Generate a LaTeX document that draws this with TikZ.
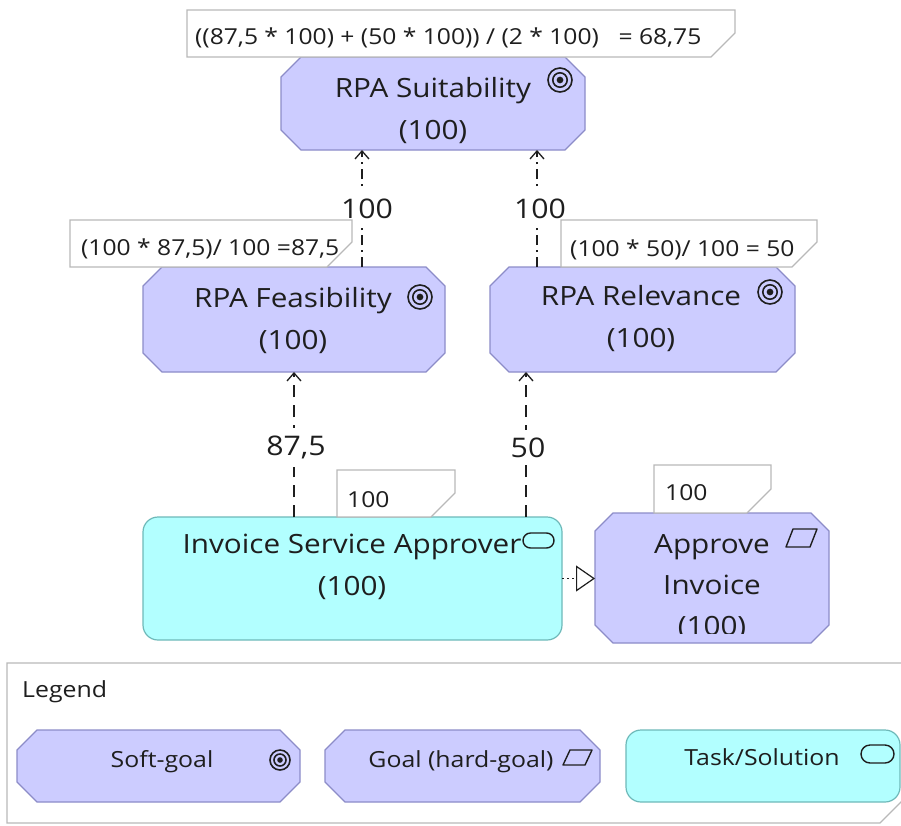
\documentclass[tikz,border=0pt]{standalone}
\usepackage{fontspec}
\setmainfont{Open Sans}[FakeStretch=1.12]
\usetikzlibrary{arrows.meta}

\definecolor{goalfill}{RGB}{204,204,255}
\definecolor{goalline}{RGB}{140,140,200}
\definecolor{taskfill}{RGB}{178,255,255}
\definecolor{taskline}{RGB}{110,185,185}
\definecolor{noteline}{RGB}{185,185,185}
\definecolor{ink}{RGB}{30,30,30}

% octagon (chamfered box) around a named node: #1 node, #2 chamfer, #3 style
\newcommand\octobox[3]{%
  \draw[#3] ([xshift=#2pt]#1.north west) -- ([xshift=-#2pt]#1.north east)
    -- ([yshift=-#2pt]#1.north east) -- ([yshift=#2pt]#1.south east)
    -- ([xshift=-#2pt]#1.south east) -- ([xshift=#2pt]#1.south west)
    -- ([yshift=#2pt]#1.south west) -- ([yshift=-#2pt]#1.north west) -- cycle;}
% note with its lower right corner cut off: #1 node, #2 cut
\newcommand\notebox[2]{%
  \draw[note] (#1.north west) -- (#1.north east) -- ([yshift=#2pt]#1.south east)
    -- ([xshift=-#2pt]#1.south east) -- (#1.south west) -- cycle;}
% soft-goal symbol: #1 centre, #2 outer radius
\newcommand\softicon[2]{%
  \draw[draw=ink,line width=1.6pt] #1 circle[radius=#2pt];
  \draw[draw=ink,line width=1.6pt] #1 circle[radius=0.6*#2pt];
  \fill[ink] #1 circle[radius=0.28*#2pt];}
% hard-goal symbol: #1 centre, #2 half width, #3 half height, #4 slant
\newcommand\goalicon[4]{%
  \draw[draw=ink,line width=1.4pt,line join=round,shift={#1}]
    (-#2,#3) -- (#2-#4,#3) -- (#2,-#3) -- (-#2+#4,-#3) -- cycle;}
% task symbol: #1 centre, #2 half width, #3 half height
\newcommand\taskicon[3]{%
  \draw[draw=ink,line width=1.4pt,rounded corners=#3pt,shift={#1}]
    (-#2,-#3) rectangle (#2,#3);}

\begin{document}
\begin{tikzpicture}[x=1pt,y=-1pt,
  box/.style 2 args={rectangle,inner sep=0pt,outer sep=0pt,
    minimum width=#1pt,minimum height=#2pt},
  goal/.style={fill=goalfill,draw=goalline,line width=1.2pt},
  task/.style={fill=taskfill,draw=taskline,line width=1.2pt,rounded corners=15pt},
  note/.style={fill=white,draw=noteline,line width=1.2pt},
  lbl/.style={font=\fontsize{26.5}{42}\selectfont,align=center,text=ink,inner sep=0pt},
  notetxt/.style={font=\fontsize{22}{26}\selectfont,text=ink,inner sep=0pt,anchor=base west},
  legtxt/.style={font=\fontsize{22.2}{25}\selectfont,text=ink,inner sep=0pt,anchor=base},
  edgelbl/.style={font=\fontsize{27}{30}\selectfont,text=ink,fill=white,
    inner xsep=1pt,inner ysep=8pt},
  link/.style={draw=ink,line width=1.3pt,
    -{Straight Barb[length=8pt,width=14pt,line width=1.3pt]}},
  upper/.style={link,dash pattern=on 10pt off 5pt on 2pt off 5pt},
  lower/.style={link,dash pattern=on 12pt off 8pt},
  realize/.style={draw=ink,line width=1.2pt,dash pattern=on 2pt off 3pt,
    -{Triangle[open,length=19pt,width=26pt,line width=1.2pt]}}]

\useasboundingbox (0,0) rectangle (901,825);
\fill[white] (0,0) rectangle (901,825);

% ---------- element frames ----------
\node[box={304}{93}]  (suit)  at (433,103.5) {};
\node[box={302}{105}] (feas)  at (294,319.5) {};
\node[box={305}{105}] (relev) at (642.5,319.5) {};
\node[box={419}{123}] (isa)   at (352.5,578.5) {};
\node[box={234}{130}] (appr)  at (712,578) {};

\octobox{suit}{20}{goal}
\octobox{feas}{19}{goal}
\octobox{relev}{19}{goal}
\draw[task] (isa.north west) rectangle (isa.south east);
\octobox{appr}{18}{goal}

% ---------- contributions ----------
\draw[upper] ([xshift=68pt]feas.north) -- ([xshift=-71pt]suit.south)
  node[edgelbl,midway,xshift=5pt] (l1) {100};
\draw[upper] ([xshift=-105.5pt]relev.north) -- ([xshift=104pt]suit.south)
  node[edgelbl,midway,xshift=3pt] (l2) {100};
\draw[lower] ([xshift=-58.5pt]isa.north) -- (feas.south)
  node[edgelbl,midway,xshift=2pt,yshift=-3pt] (l3) {87,5};
\draw[lower] ([xshift=173.5pt]isa.north) -- ([xshift=-116.5pt]relev.south)
  node[edgelbl,midway,xshift=2pt,yshift=-3pt] (l4) {50};
\draw[realize] (isa.east) -- (isa.east -| appr.west);

% ---------- notes ----------
\node[box={548}{47}] (topnote)   at (461,33.5) {};
\node[box={282}{47}] (feasnote)  at (211,243.5) {};
\node[box={256}{47}] (relevnote) at (689,243.5) {};
\node[box={118}{47}] (isanote)   at (396,493.5) {};
\node[box={117}{48}] (apprnote)  at (712.5,489) {};
\notebox{topnote}{24}
\notebox{feasnote}{25}
\notebox{relevnote}{25}
\notebox{isanote}{24}
\notebox{apprnote}{24}

\node[notetxt] (t1) at (195,44) {((87,5 * 100) + (50 * 100)) / (2 * 100)\hspace{0.6em} = 68,75};
\node[notetxt] (t2) at (81,255) {(100 * 87,5)/ 100 =87,5};
\node[notetxt] (t3) at (570,256) {(100 * 50)/ 100 = 50};
\node[notetxt] (t4) at (347,507) {100};
\node[notetxt] (t5) at (665,500) {100};

% ---------- element labels and symbols ----------
\node[lbl] (suittxt)  at (433,111) {RPA Suitability\\(100)};
\node[lbl] (feastxt)  at (293,321) {RPA Feasibility\\(100)};
\node[lbl] (releventxt) at (641,319) {RPA Relevance\\(100)};
\node[lbl] (isatxt)   at (352,567) {Invoice Service Approver\\(100)};
\begin{scope}
  \clip (595,513) rectangle (829,633);
  \node[lbl,font=\fontsize{26.5}{41}\selectfont] (apprtxt) at (712,587) {Approve\\Invoice\\(100)};
\end{scope}

\softicon{(560,80)}{12}
\softicon{(420,297)}{12}
\softicon{(770,292)}{12}
\taskicon{(538.5,540.5)}{15.5}{7.5}
\goalicon{(801.5,538)}{15.5}{9}{7}

% ---------- legend ----------
\node[box={901}{160}] (legend) at (457.5,743) {};
\notebox{legend}{28}
\node[legtxt,anchor=base west] (legtitle) at (22,697) {Legend};

\node[box={283}{72}] (legsoft) at (158.5,766) {};
\node[box={275}{72}] (leggoal) at (462.5,766) {};
\node[box={274}{72}] (legtask) at (763,766) {};
\octobox{legsoft}{20}{goal}
\octobox{leggoal}{20}{goal}
\draw[task] (legtask.north west) rectangle (legtask.south east);

\node[legtxt] (softtxt) at (162,767) {Soft-goal};
\node[legtxt] (goaltxt) at (461,767) {Goal (hard-goal)};
\node[legtxt] (tasktxt) at (762,765) {Task/Solution};
\softicon{(280,760)}{10}
\goalicon{(577.5,757.5)}{14.5}{7.5}{7}
\taskicon{(877.5,754)}{16.5}{9}

\end{tikzpicture}
\end{document}
